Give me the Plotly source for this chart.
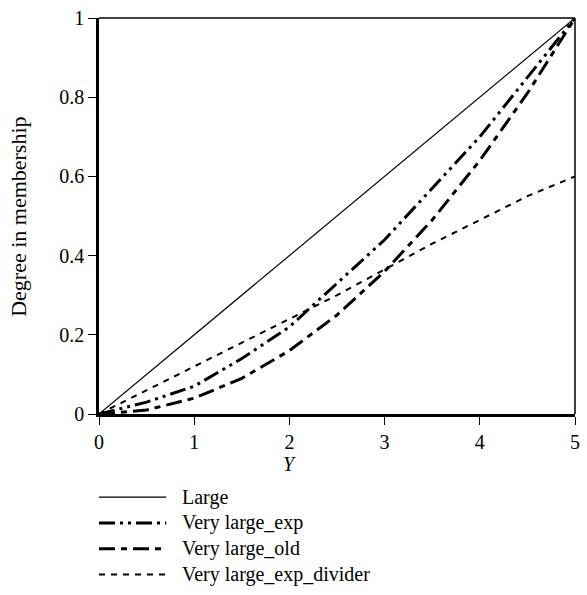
import plotly.graph_objects as go

y_vals = [0, 0.5, 1, 1.5, 2, 2.5, 3, 3.5, 4, 4.5, 5]
large = [0, 0.1, 0.2, 0.3, 0.4, 0.5, 0.6, 0.7, 0.8, 0.9, 1.0]
very_large_exp = [0, 0.03, 0.07, 0.14, 0.22, 0.33, 0.44, 0.57, 0.70, 0.85, 1.0]
very_large_old = [0, 0.01, 0.04, 0.09, 0.16, 0.25, 0.36, 0.49, 0.64, 0.81, 1.0]
very_large_exp_divider = [0, 0.06, 0.12, 0.18, 0.24, 0.30, 0.365, 0.43, 0.49, 0.55, 0.60]

series_names = ["Large", "Very large_exp", "Very large_old", "Very large_exp_divider"]
series_data = [large, very_large_exp, very_large_old, very_large_exp_divider]
styles = [
    dict(width=1.2, dash="solid"),
    dict(width=3, dash="16px,5px,3px,5px,3px,5px"),
    dict(width=3, dash="16px,6px,6px,6px"),
    dict(width=2, dash="6px,6px"),
]

FONT = "Liberation Serif, Times New Roman, serif"
FS = 20
W, H = 587, 595
L, R, T, B = 99, 7, 14, 181
pw, ph = W - L - R, H - T - B

fig = go.Figure()
for name, data, st in zip(series_names, series_data, styles):
    fig.add_trace(go.Scatter(x=y_vals, y=data, mode="lines", name=name,
                             line=dict(color="black", **st), showlegend=False))

def px2paper(x, y):
    return (x - L) / pw, (H - B - y) / ph

shapes = []
shapes.append(dict(type="line", xref="paper", yref="paper", x0=0, x1=1, y0=1, y1=1,
                   line=dict(color="black", width=1.5)))
shapes.append(dict(type="line", xref="paper", yref="paper", x0=1, x1=1, y0=0, y1=1,
                   line=dict(color="black", width=1.5)))

annotations = []
legend_rows = [498, 524, 550, 576]
for name, st, ry in zip(series_names, styles, legend_rows):
    x0, y0 = px2paper(99, ry)
    x1, _ = px2paper(167, ry)
    shapes.append(dict(type="line", xref="paper", yref="paper", x0=x0, x1=x1, y0=y0, y1=y0,
                       line=dict(color="black", **st)))
    tx, _ = px2paper(181, ry)
    annotations.append(dict(text=name, xref="paper", yref="paper", x=tx, y=y0,
                            xanchor="left", yanchor="middle", showarrow=False,
                            font=dict(family=FONT, size=FS, color="black")))

ax, ay = px2paper(18, 215)
annotations.append(dict(text="Degree in membership", xref="paper", yref="paper", x=ax, y=ay,
                        textangle=-90, xanchor="center", yanchor="middle", showarrow=False,
                        font=dict(family=FONT, size=22, color="black")))
bx, by = px2paper(292, 465)
annotations.append(dict(text="<i>Y</i>", xref="paper", yref="paper", x=bx, y=by,
                        xanchor="center", yanchor="middle", showarrow=False,
                        font=dict(family=FONT, size=FS, color="black")))

fig.update_layout(
    width=W, height=H,
    margin=dict(l=L, r=R, t=T, b=B),
    paper_bgcolor="white", plot_bgcolor="white",
    font=dict(family=FONT, size=FS, color="black"),
    shapes=shapes, annotations=annotations,
    xaxis=dict(range=[0, 5], tickvals=[0, 1, 2, 3, 4, 5], ticktext=["0", "1", "2", "3", "4", "5"],
               showgrid=False, zeroline=False, showline=True, linewidth=2.5, linecolor="black",
               ticks="outside", ticklen=8, tickwidth=1.2, tickcolor="black"),
    yaxis=dict(range=[0, 1], tickvals=[0, 0.2, 0.4, 0.6, 0.8, 1],
               ticktext=["0", "0.2", "0.4", "0.6", "0.8", "1"],
               showgrid=False, zeroline=False, showline=True, linewidth=2.5, linecolor="black",
               ticks="outside", ticklen=8, tickwidth=1.2, tickcolor="black"),
)

fig.write_html("out.html")
